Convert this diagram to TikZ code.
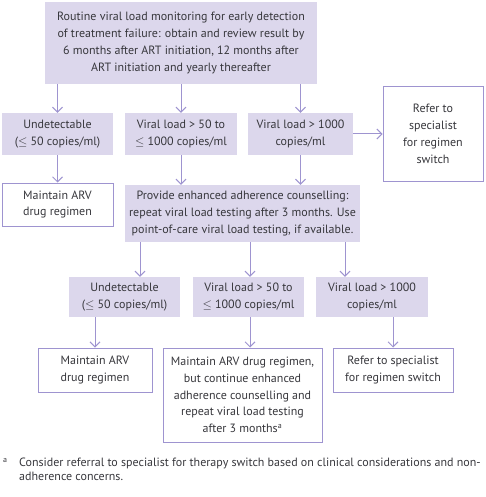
\documentclass[tikz,border=0pt]{standalone}
\usepackage{fontspec}
\setmainfont{PT Sans}
\usepackage{xcolor}
\usepackage{tikz}
\usetikzlibrary{positioning,arrows.meta,calc}
\definecolor{lilac}{RGB}{220,215,236}
\definecolor{lilacline}{RGB}{158,148,208}
\definecolor{txtgray}{RGB}{55,55,60}

\begin{document}
\begin{tikzpicture}[x=1pt,y=-1pt,font=\fontsize{12}{16.8}\selectfont,text=txtgray,
    filled/.style={fill=lilac,align=center,inner sep=1pt},
    outlined/.style={draw=lilacline,line width=1pt,fill=white,align=center,inner sep=1pt},
    arr/.style={draw=lilacline,line width=1pt,-{Straight Barb[length=5pt,width=10pt]}}]
        \useasboundingbox (0,0) rectangle (485,497);
        % first test
        \node (top) [filled,minimum width=272pt,minimum height=82pt] at (181,43)
            {Routine viral load monitoring for early detection\\ of treatment failure: obtain and review result by\\ 6 months after ART initiation, 12 months after\\ ART initiation and yearly thereafter};
        \node (undet1) [filled,minimum width=111pt,minimum height=42pt] at (57.5,134) {Undetectable\\ ($\le$ 50 copies/ml)};
        \node (mid1) [filled,minimum width=112pt,minimum height=42pt] at (181,134) {Viral load > 50 to\\ $\le$ 1000 copies/ml};
        \node (high1) [filled,minimum width=105pt,minimum height=42pt] at (300.5,134) {Viral load > 1000\\ copies/ml};
        \node (refer1) [outlined,minimum width=100pt,minimum height=94pt] at (433,134) {Refer to\\ specialist\\ for regimen\\ switch};
        \node (keep1) [outlined,minimum width=111pt,minimum height=43pt] at (57.5,204.5) {Maintain ARV\\ drug regimen};
        \node (enh) [filled,minimum width=235pt,minimum height=57pt] at (242.5,213.5)
            {Provide enhanced adherence counselling:\\ repeat viral load testing after 3 months. Use\\ point-of-care viral load testing, if available.};
        % repeat test
        \node (undet2) [filled,minimum width=111pt,minimum height=40pt] at (124.5,297) {Undetectable\\ ($\le$ 50 copies/ml)};
        \node (mid2) [filled,minimum width=111pt,minimum height=40pt] at (248.5,297) {Viral load > 50 to\\ $\le$ 1000 copies/ml};
        \node (high2) [filled,minimum width=112pt,minimum height=40pt] at (372,297) {Viral load > 1000\\ copies/ml};
        \node (keep2) [outlined,minimum width=114pt,minimum height=44pt] at (95,370) {Maintain ARV\\ drug regimen};
        \node (cont) [outlined,minimum width=159pt,minimum height=94pt] at (242.5,395)
            {Maintain ARV drug regimen,\\ but continue enhanced\\ adherence counselling and\\ repeat viral load testing\\ after 3 months\textsuperscript{a}};
        \node (refer2) [outlined,minimum width=120pt,minimum height=44pt] at (393,370) {Refer to specialist\\ for regimen switch};
        \node (note) [anchor=north west,align=left,inner sep=0pt,font=\fontsize{12}{13.5}\selectfont] at (19,458)
            {Consider referral to specialist for therapy switch based on clinical considerations and non-\\ adherence concerns.};
        \node (mark) [anchor=north west,inner sep=0pt] at (3,458) {\textsuperscript{a}};
        % connectors
        \draw[arr] (undet1 |- top.south) -- (undet1.north);
        \draw[arr] (mid1 |- top.south) -- (mid1.north);
        \draw[arr] (high1 |- top.south) -- (high1.north);
        \draw[arr] (high1.east) -- (high1.east -| refer1.west);
        \draw[arr] (undet1.south) -- (keep1.north);
        \draw[arr] (mid1.south) -- (mid1.south |- enh.north);
        \draw[arr] (high1.south) -- (high1.south |- enh.north);
        \draw[arr] ([xshift=15.5pt]undet2.north |- enh.south) -- ([xshift=15.5pt]undet2.north);
        \draw[arr] ([xshift=1.5pt]mid2.north |- enh.south) -- ([xshift=1.5pt]mid2.north);
        \draw[arr] ([xshift=-27pt]high2.north |- enh.south) -- ([xshift=-27pt]high2.north);
        \draw[arr] (keep2.north |- undet2.south) -- (keep2.north);
        \draw[arr] ([xshift=1.5pt]mid2.south) -- ([xshift=1.5pt]mid2.south |- cont.north);
        \draw[arr] (refer2.north |- high2.south) -- (refer2.north);
\end{tikzpicture}
\end{document}
